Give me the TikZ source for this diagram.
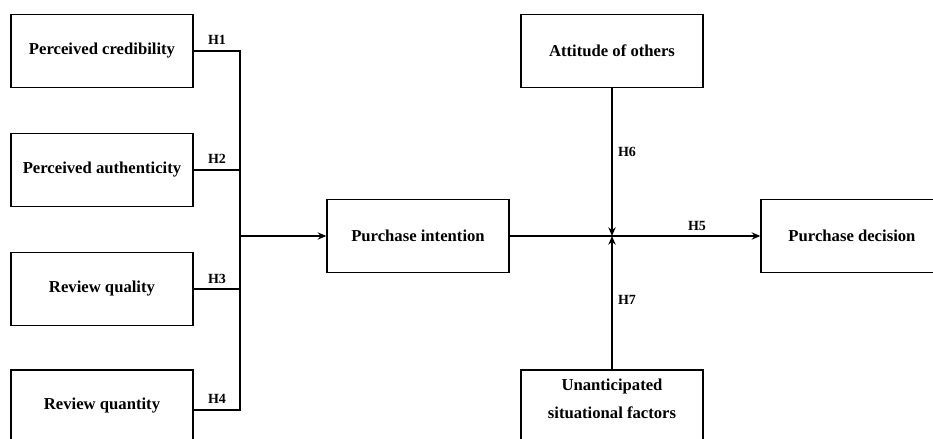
\documentclass[tikz,border=0pt]{standalone}
\usepackage{fontspec}
\setmainfont{Liberation Serif}
\usetikzlibrary{arrows.meta}

\begin{document}
\begin{tikzpicture}[x=0.75pt, y=-0.75pt,
  factor/.style={draw, line width=1pt, minimum width=136.5pt, minimum height=55pt,
    align=center, font=\fontsize{12.5}{15}\selectfont\bfseries, inner sep=2pt},
  cutbox/.style={factor, minimum height=60pt},
  hlabel/.style={font=\fontsize{10.5}{12}\selectfont\bfseries, inner sep=1pt},
  link/.style={line width=1pt},
  arr/.style={line width=1pt, -{Stealth[length=6.5pt, width=5.5pt]}}]
  \useasboundingbox (0,0) rectangle (933,439);
  \node[factor] (cred) at (102, 51) {Perceived credibility};
  \node[factor] (auth) at (102, 170) {Perceived authenticity};
  \node[factor] (qual) at (102, 289) {Review quality};
  \node[cutbox] (quan) at (102, 410) {Review quantity\\[-6pt]\mbox{}};
  \node[factor] (intent) at (418, 236) {Purchase intention};
  \node[factor] (others) at (612, 51) {Attitude of others};
  \node[cutbox] (situ) at (612, 410) {Unanticipated\\[6pt]situational factors\\[2pt]\mbox{}};
  \node[factor] (decide) at (852, 236) {Purchase decision};
  \coordinate (bus) at (240, 236);
  \coordinate (mod) at (612, 236);
  \draw[link] (cred.east) -| (bus);
  \draw[link] (auth.east) -| (bus);
  \draw[link] (qual.east) -| (bus);
  \draw[link] (quan.east |- 0,410) -| (bus);
  \draw[arr] (bus) -- (intent.west);
  \draw[link] (intent.east) -- (mod);
  \draw[arr] (mod) -- (decide.west);
  \draw[arr] (others.south) -- (mod);
  \draw[arr] (situ.north) -- (mod);
  \node[hlabel] (h1) at (217, 40) {H1};
  \node[hlabel] (h2) at (217, 159) {H2};
  \node[hlabel] (h3) at (217, 279) {H3};
  \node[hlabel] (h4) at (217, 399) {H4};
  \node[hlabel] (h5) at (697, 226) {H5};
  \node[hlabel] (h6) at (627, 152) {H6};
  \node[hlabel] (h7) at (627, 300) {H7};
\end{tikzpicture}
\end{document}
